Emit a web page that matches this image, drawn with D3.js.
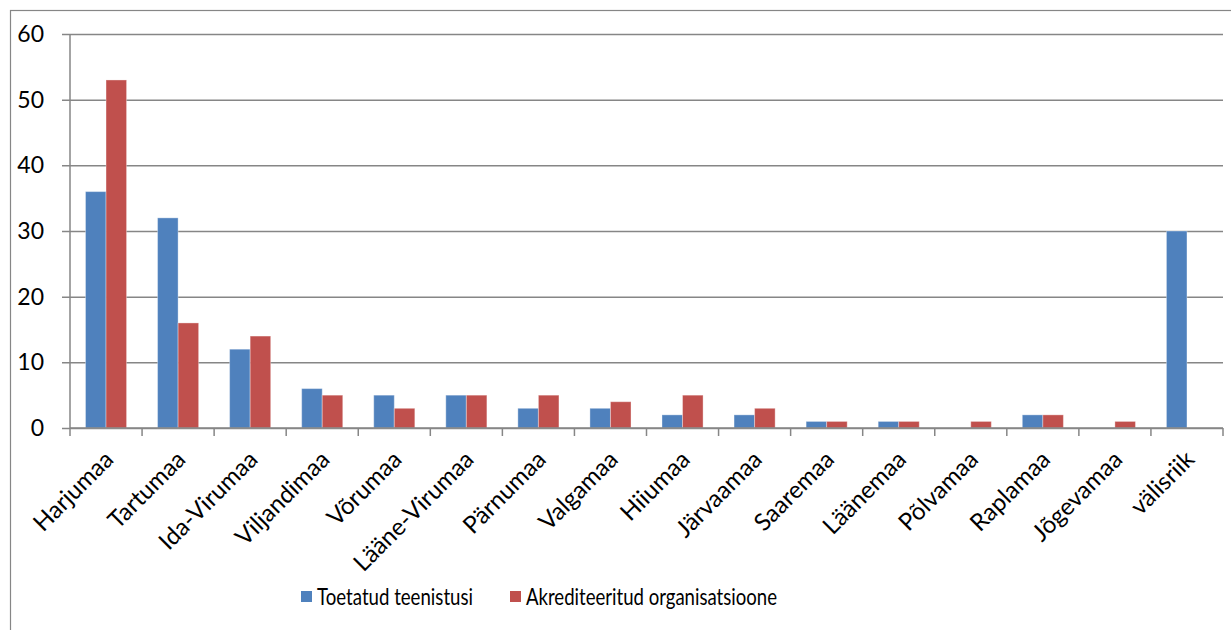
<!DOCTYPE html>
<html>
<head>
<meta charset="utf-8">
<script src="https://cdn.jsdelivr.net/npm/d3@7"></script>
<style>
  body { margin: 0; background: #fff; }
  text { font-family: Lato, "Open Sans", sans-serif; fill: #000; }
</style>
</head>
<body>
<svg id="chart" width="1231" height="630"></svg>
<script>
// chart data
const counties = ["Harjumaa", "Tartumaa", "Ida-Virumaa", "Viljandimaa", "Võrumaa", "Lääne-Virumaa",
  "Pärnumaa", "Valgamaa", "Hiiumaa", "Järvaamaa", "Saaremaa", "Läänemaa", "Põlvamaa",
  "Raplamaa", "Jõgevamaa", "välisriik"];
const supported = [36, 32, 12, 6, 5, 5, 3, 3, 2, 2, 1, 1, 0, 2, 0, 30];
const accredited = [53, 16, 14, 5, 3, 5, 5, 4, 5, 3, 1, 1, 1, 2, 1, 0];
const seriesNames = ["Toetatud teenistusi", "Akrediteeritud organisatsioone"];
const yTicks = [0, 10, 20, 30, 40, 50, 60];

const colors = ["#4F81BD", "#C0504D"];
const plot = { left: 70, right: 1223, top: 34, bottom: 428 };

const svg = d3.select('#chart');

// outer chart frame (only top/left visible)
svg.append('rect')
  .attr('x', 10.5).attr('y', 10.5)
  .attr('width', 1240).attr('height', 640)
  .attr('fill', 'none')
  .attr('stroke', '#868686')
  .attr('stroke-width', 1.2);

const x0 = d3.scaleBand()
  .domain(counties)
  .range([plot.left, plot.right])
  .paddingInner(0.43)
  .paddingOuter(0.215);

const x1 = d3.scaleBand()
  .domain([0, 1])
  .range([0, x0.bandwidth()]);

const y = d3.scaleLinear()
  .domain([0, 60])
  .range([plot.bottom, plot.top]);

// gridlines + y labels
const yAxis = svg.append('g')
  .attr('transform', `translate(${plot.left},0)`)
  .call(d3.axisLeft(y).tickValues(yTicks).tickSize(-(plot.right - plot.left)).tickPadding(26).tickFormat(d3.format('d')));
yAxis.select('.domain').remove();
yAxis.selectAll('.tick line')
  .attr('x1', -8)
  .attr('stroke', '#868686')
  .attr('stroke-width', 1.5);
yAxis.selectAll('.tick text')
  .style('font-size', '23px')
  .attr('fill', '#000');

// y axis line
svg.append('line')
  .attr('x1', plot.left).attr('x2', plot.left)
  .attr('y1', plot.top).attr('y2', plot.bottom)
  .attr('stroke', '#868686')
  .attr('stroke-width', 1.5);

// bars
const groups = svg.append('g')
  .selectAll('g')
  .data(counties)
  .join('g')
  .attr('transform', (d) => `translate(${x0(d)},0)`);

groups.selectAll('rect')
  .data((d, i) => [supported[i], accredited[i]].map((v, s) => ({ v, s })))
  .join('rect')
  .filter((d) => d.v > 0)
  .attr('x', (d) => x1(d.s))
  .attr('y', (d) => y(d.v))
  .attr('width', x1.bandwidth())
  .attr('height', (d) => y(0) - y(d.v))
  .attr('fill', (d) => colors[d.s])
  .attr('stroke', 'rgba(255,255,255,0.35)')
  .attr('stroke-width', 1);

// x axis with category ticks at boundaries
const step = x0.step();
const xAxis = svg.append('g')
  .attr('transform', `translate(0,${plot.bottom})`);
xAxis.append('line')
  .attr('x1', plot.left).attr('x2', plot.right)
  .attr('stroke', '#868686')
  .attr('stroke-width', 1.5);
xAxis.selectAll('line.tk')
  .data(d3.range(counties.length + 1))
  .join('line')
  .attr('class', 'tk')
  .attr('x1', (i) => plot.left + i * step)
  .attr('x2', (i) => plot.left + i * step)
  .attr('y1', 0).attr('y2', 8)
  .attr('stroke', '#868686')
  .attr('stroke-width', 1.5);
xAxis.selectAll('text')
  .data(counties)
  .join('text')
  .attr('transform', (d) => `translate(${x0(d) + x0.bandwidth() / 2 + 3},${27}) rotate(-45)`)
  .attr('text-anchor', 'end')
  .attr('dy', '0.35em')
  .style('font-size', '24px')
  .text((d) => d);

// legend
const legend = svg.append('g').attr('transform', 'translate(0,597)');
const legendX = [301, 510];
const legendW = [156, 251];
seriesNames.forEach((name, i) => {
  legend.append('rect')
    .attr('x', legendX[i]).attr('y', -6)
    .attr('width', 11).attr('height', 11)
    .attr('fill', colors[i]);
  legend.append('text')
    .attr('x', legendX[i] + 16)
    .attr('y', 0)
    .attr('dy', '0.35em')
    .attr('textLength', legendW[i])
    .attr('lengthAdjust', 'spacingAndGlyphs')
    .style('font-size', '24px')
    .text(name);
});
</script>
</body>
</html>
